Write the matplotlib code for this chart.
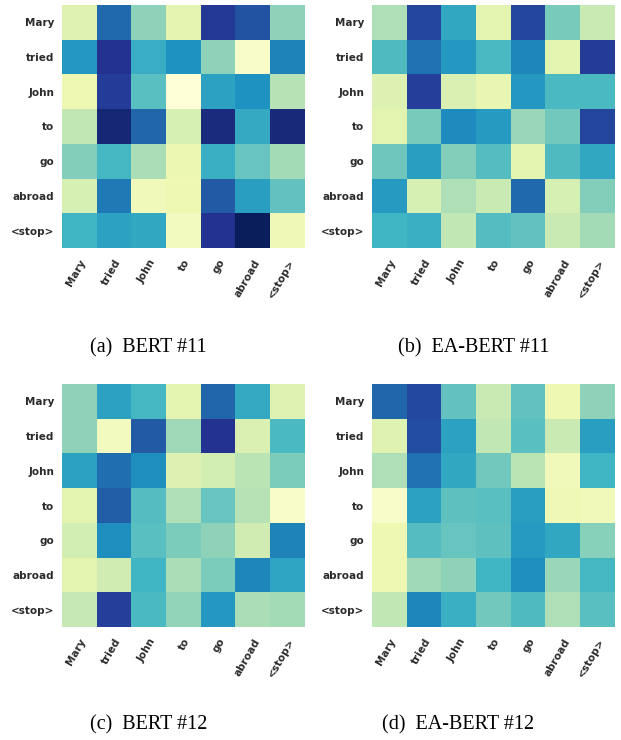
import numpy as np
import matplotlib
matplotlib.use("Agg")
import matplotlib.pyplot as plt

tokens = ["Mary", "tried", "John", "to", "go", "abroad", "<stop>"]

bert_11 = [
    [0.17, 0.72, 0.35, 0.15, 0.86, 0.78, 0.35],
    [0.60, 0.88, 0.53, 0.62, 0.35, 0.05, 0.66],
    [0.12, 0.85, 0.45, 0.01, 0.57, 0.62, 0.28],
    [0.26, 0.94, 0.73, 0.20, 0.92, 0.54, 0.93],
    [0.37, 0.49, 0.30, 0.125, 0.52, 0.42, 0.31],
    [0.20, 0.68, 0.10, 0.12, 0.76, 0.58, 0.43],
    [0.50, 0.57, 0.55, 0.08, 0.88, 0.99, 0.11],
]

ea_bert_11 = [
    [0.29, 0.82, 0.55, 0.16, 0.82, 0.39, 0.24],
    [0.47, 0.70, 0.60, 0.48, 0.65, 0.16, 0.85],
    [0.18, 0.84, 0.19, 0.14, 0.60, 0.48, 0.48],
    [0.16, 0.39, 0.64, 0.59, 0.33, 0.40, 0.82],
    [0.41, 0.58, 0.37, 0.46, 0.16, 0.47, 0.55],
    [0.59, 0.20, 0.29, 0.24, 0.72, 0.20, 0.37],
    [0.50, 0.52, 0.26, 0.46, 0.43, 0.24, 0.31],
]

bert_12 = [
    [0.35, 0.57, 0.49, 0.16, 0.73, 0.54, 0.17],
    [0.35, 0.08, 0.76, 0.32, 0.88, 0.19, 0.48],
    [0.57, 0.71, 0.63, 0.18, 0.21, 0.27, 0.38],
    [0.16, 0.75, 0.46, 0.29, 0.42, 0.28, 0.05],
    [0.21, 0.63, 0.45, 0.38, 0.35, 0.22, 0.66],
    [0.16, 0.22, 0.50, 0.30, 0.38, 0.65, 0.56],
    [0.25, 0.84, 0.48, 0.34, 0.60, 0.30, 0.31],
]

ea_bert_12 = [
    [0.73, 0.81, 0.43, 0.24, 0.43, 0.12, 0.35],
    [0.17, 0.80, 0.57, 0.26, 0.45, 0.24, 0.58],
    [0.29, 0.70, 0.55, 0.40, 0.27, 0.10, 0.50],
    [0.05, 0.57, 0.44, 0.45, 0.58, 0.11, 0.10],
    [0.12, 0.46, 0.42, 0.44, 0.59, 0.55, 0.36],
    [0.12, 0.32, 0.35, 0.50, 0.63, 0.33, 0.49],
    [0.26, 0.65, 0.52, 0.40, 0.47, 0.29, 0.45],
]

captions = ["(a)  BERT #11", "(b)  EA-BERT #11", "(c)  BERT #12", "(d)  EA-BERT #12"]
matrices = [bert_11, ea_bert_11, bert_12, ea_bert_12]

W, H = 621, 740
fig = plt.figure(figsize=(W / 100, H / 100), dpi=100)

# panel boxes in pixels: left, top, size
boxes = [(62, 5), (372, 5), (62, 384), (372, 384)]
size = 243
caption_pos = [(148, 348), (474, 348), (149, 725), (458, 725)]

for mat, (left, top), cap, (cx, cy) in zip(matrices, boxes, captions, caption_pos):
    ax = fig.add_axes([left / W, 1 - (top + size) / H, size / W, size / H])
    ax.imshow(np.array(mat), cmap="YlGnBu", vmin=0, vmax=1, aspect="auto",
              interpolation="nearest")
    ax.set_xticks(range(len(tokens)))
    ax.set_yticks(range(len(tokens)))
    ax.set_xticklabels(tokens, rotation=60, ha="right", rotation_mode="anchor",
                       fontsize=7.5, fontweight="bold", color="#2b2b2b")
    ax.set_yticklabels(tokens, fontsize=7.5, fontweight="bold", color="#2b2b2b")
    ax.tick_params(axis="x", length=0, pad=7)
    ax.tick_params(axis="y", length=0, pad=5.5)
    for s in ax.spines.values():
        s.set_visible(False)
    fig.text(cx / W, 1 - cy / H, cap, ha="center", va="center",
             fontsize=14.5, family="Liberation Serif")

fig.savefig("out.png", dpi=100)
